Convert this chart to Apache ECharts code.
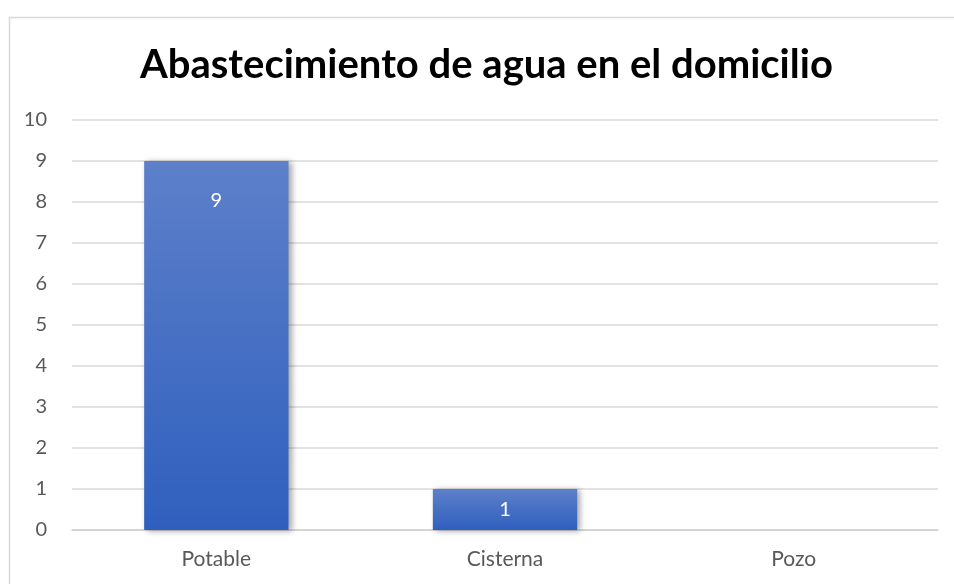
<!DOCTYPE html>
<html><head><meta charset="utf-8">
<script src="https://cdn.jsdelivr.net/npm/echarts@6/dist/echarts.min.js"></script>
<style>html,body{margin:0;padding:0;background:#fff}#c{width:954px;height:584px}</style>
</head><body><div id="c"></div>
<script>
const titleText = 'Abastecimiento de agua en el domicilio';
const categories = ['Potable', 'Cisterna', 'Pozo'];
const values = [9, 1, 0];
const yMin = 0, yMax = 10, yStep = 1;

const chart = echarts.init(document.getElementById('c'), null, {renderer: 'canvas'});
const barColor = new echarts.graphic.LinearGradient(0, 0, 0, 1, [
  {offset: 0, color: '#5d80c9'},
  {offset: 1, color: '#2f5fbe'}
]);
const data = values.map((v, i) => ({
  value: v,
  label: {
    show: v > 0,
    position: v >= 3 ? 'insideTop' : 'inside',
    distance: 30
  }
}));
const ff = 'Lato, "Open Sans", sans-serif';
chart.setOption({
  animation: false,
  graphic: [{
    type: 'rect', left: 7, top: 15, silent: true,
    shape: {width: 1000, height: 700},
    style: {fill: 'none', stroke: '#d9d9d9', lineWidth: 1.5}
  }],
  title: {
    text: titleText, left: 135, top: 40,
    textStyle: {fontFamily: ff, fontWeight: 'bold', fontSize: 40, color: '#000'}
  },
  grid: {left: 72, right: 16, top: 120, bottom: 54},
  xAxis: {
    type: 'category', data: categories,
    axisLine: {lineStyle: {color: '#d0d0d0', width: 1.5}},
    axisTick: {show: false},
    axisLabel: {color: '#595959', fontSize: 21, fontFamily: ff, margin: 19}
  },
  yAxis: {
    type: 'value', min: yMin, max: yMax, interval: yStep,
    axisLine: {show: false}, axisTick: {show: false},
    axisLabel: {color: '#595959', fontSize: 20, fontFamily: ff, margin: 25},
    splitLine: {lineStyle: {color: '#d9d9d9', width: 1.5}}
  },
  series: [{
    type: 'bar', data: data, barWidth: '50%',
    itemStyle: {color: barColor, shadowColor: 'rgba(0,0,0,0.35)', shadowBlur: 6, shadowOffsetX: 3, shadowOffsetY: 1},
    label: {color: '#fff', fontSize: 20, fontFamily: ff}
  }]
});
</script></body></html>
